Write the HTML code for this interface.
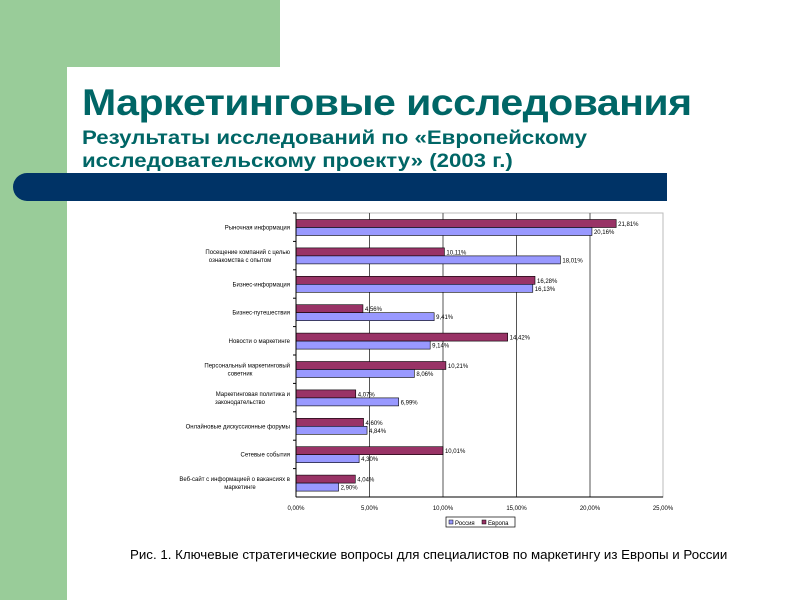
<!DOCTYPE html>
<html><head><meta charset="utf-8"><style>
body{margin:0;width:800px;height:600px;background:#fff;position:relative;overflow:hidden;font-family:"Liberation Sans",sans-serif}
.g1{position:absolute;left:0;top:0;width:280px;height:67px;background:#99cc99}
.g2{position:absolute;left:0;top:0;width:67px;height:600px;background:#99cc99}
.w{position:absolute;left:67px;top:67px;width:40px;height:40px;background:#fff;border-top-left-radius:18px}
.t1{position:absolute;left:82px;top:82px;font-size:37px;font-weight:bold;color:#006666;letter-spacing:-0.5px;transform:scaleX(1.11);transform-origin:left;white-space:nowrap}
.t2{position:absolute;left:82px;top:127px;font-size:19.5px;font-weight:bold;color:#006666;line-height:23px;transform:scaleX(1.14);transform-origin:left;white-space:nowrap}
.bar{position:absolute;left:13px;top:173px;width:654px;height:28px;background:#003366;border-radius:14px 0 0 14px}
.cap{position:absolute;left:130px;top:547px;font-size:13.3px;color:#000;white-space:nowrap}
</style></head><body>
<div class="g1"></div><div class="g2"></div><div class="w"></div>
<div class="t1">Маркетинговые исследования</div>
<div class="t2">Результаты исследований по «Европейскому<br>исследовательскому проекту» (2003 г.)</div>
<div class="bar"></div>
<svg style="position:absolute;left:0;top:0" width="800" height="600" font-family="Liberation Sans, sans-serif">
<rect x="296" y="213" width="367" height="284" fill="none" stroke="#bbb" stroke-width="1"/>
<g stroke="#555" stroke-width="1">
<line x1="369.5" y1="213" x2="369.5" y2="497"/><line x1="443" y1="213" x2="443" y2="497"/>
<line x1="516.5" y1="213" x2="516.5" y2="497"/><line x1="590" y1="213" x2="590" y2="497"/>
</g>
<g id="bars"></g>
<line x1="296" y1="497" x2="663" y2="497" stroke="#000"/>
<line x1="296" y1="213" x2="296" y2="497" stroke="#000"/>
<g font-size="6" text-anchor="middle" fill="#000">
<text x="296" y="510">0,00%</text><text x="369.5" y="510">5,00%</text><text x="443" y="510">10,00%</text>
<text x="516.5" y="510">15,00%</text><text x="590" y="510">20,00%</text><text x="663" y="510">25,00%</text>
</g>
<rect x="446" y="517" width="69" height="10" fill="#fff" stroke="#000" stroke-width="0.7"/>
<rect x="449" y="520" width="4" height="4" fill="#9999ff" stroke="#000" stroke-width="0.5"/>
<text x="455" y="525" font-size="6">Россия</text>
<rect x="482" y="520" width="4" height="4" fill="#993366" stroke="#000" stroke-width="0.5"/>
<text x="488" y="525" font-size="6">Европа</text>
</svg>
<div class="cap">Рис. 1. Ключевые стратегические вопросы для специалистов по маркетингу из Европы и России</div>
<script>
var d=[["Рыночная информация","",21.81,20.16,"21,81%","20,16%"],
["Посещение компаний с целью","ознакомства с опытом",10.11,18.01,"10,11%","18,01%"],
["Бизнес-информация","",16.28,16.13,"16,28%","16,13%"],
["Бизнес-путешествия","",4.56,9.41,"4,56%","9,41%"],
["Новости о маркетинге","",14.42,9.14,"14,42%","9,14%"],
["Персональный маркетинговый","советник",10.21,8.06,"10,21%","8,06%"],
["Маркетинговая политика и","законодательство",4.07,6.99,"4,07%","6,99%"],
["Онлайновые дискуссионные форумы","",4.60,4.84,"4,60%","4,84%"],
["Сетевые события","",10.01,4.30,"10,01%","4,30%"],
["Веб-сайт с информацией о вакансиях в","маркетинге","4.04",2.90,"4,04%","2,90%"]];
var s="";
for(var i=0;i<10;i++){var y=213+i*28.4+6.5;var c=d[i];
var e=14.68*c[2],r=14.68*c[3];
s+='<rect x="296" y="'+y+'" width="'+e+'" height="8" fill="#993366" stroke="#000" stroke-width="0.6"/>';
s+='<rect x="296" y="'+(y+8)+'" width="'+r+'" height="8" fill="#9999ff" stroke="#000" stroke-width="0.6"/>';
s+='<text x="'+(298+e)+'" y="'+(y+6.5)+'" font-size="6">'+c[4]+'</text>';
s+='<text x="'+(298+r)+'" y="'+(y+14.5)+'" font-size="6">'+c[5]+'</text>';
s+='<line x1="293" y1="'+(213+i*28.4)+'" x2="296" y2="'+(213+i*28.4)+'" stroke="#000"/>';
if(c[1]){s+='<text x="290" y="'+(y+6)+'" font-size="6" text-anchor="end">'+c[0]+'</text><text x="240" y="'+(y+14)+'" font-size="6" text-anchor="middle">'+c[1]+'</text>';}
else s+='<text x="290" y="'+(y+10)+'" font-size="6" text-anchor="end">'+c[0]+'</text>';}
document.getElementById("bars").innerHTML=s;
</script>
</body></html>
